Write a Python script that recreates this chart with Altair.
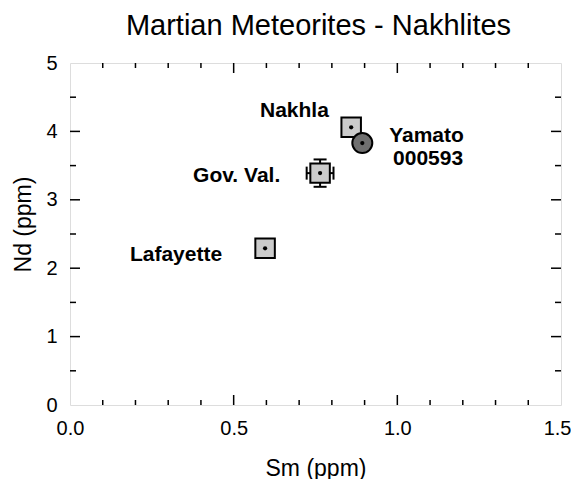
import altair as alt
import pandas as pd

# --- data ---
names = ["Lafayette", "Gov. Val.", "Nakhla", "Yamato 000593"]
sm = [0.596, 0.764, 0.859, 0.893]
nd = [2.29, 3.39, 4.06, 3.83]
kind = ["square", "square", "square", "circle"]

# error bars (Gov. Val. only)
err_name = ["Gov. Val."]
err_sm = [0.764]
err_nd = [3.39]
err_dsm = [0.041]
err_dnd = [0.20]

# labels
label_text = ["Lafayette", "Gov. Val.", "Nakhla", "Yamato", "000593"]
label_sm = [0.183, 0.376, 0.5805, 0.975, 0.987]
label_nd = [2.105, 3.26, 4.21, 3.845, 3.51]

# axis ticks
x_major = [0.0, 0.5, 1.0, 1.5]
x_minor = [0.1, 0.2, 0.3, 0.4, 0.6, 0.7, 0.8, 0.9, 1.1, 1.2, 1.3, 1.4]
y_major = [0, 1, 2, 3, 4, 5]
y_minor = [0.5, 1.5, 2.5, 3.5, 4.5]

W, H = 491, 342
FONT = "Liberation Sans"

pts = pd.DataFrame({"name": names, "sm": sm, "nd": nd, "kind": kind})
err = pd.DataFrame({"name": err_name, "sm": err_sm, "nd": err_nd,
                    "dsm": err_dsm, "dnd": err_dnd})
err["sm_lo"] = err["sm"] - err["dsm"]
err["sm_hi"] = err["sm"] + err["dsm"]
err["nd_lo"] = err["nd"] - err["dnd"]
err["nd_hi"] = err["nd"] + err["dnd"]
labels = pd.DataFrame({"t": label_text, "sm": label_sm, "nd": label_nd})

xs = alt.Scale(domain=[0, 1.5], nice=False, zero=False)
ys = alt.Scale(domain=[0, 5], nice=False, zero=False)

x_axis = alt.Axis(values=x_major, format=".1f", grid=False, domain=False,
                  ticks=False, tickSize=0, labelPadding=13, labelFontSize=20,
                  labelFont=FONT, labelColor="black", labelFlush=False,
                  labelAlign={"condition": {"test": "datum.value >= 1.5",
                                            "value": "right"},
                              "value": "center"},
                  labelOffset={"condition": {"test": "datum.value >= 1.5",
                                             "value": 10},
                               "value": 0},
                  title="Sm (ppm)", titleFont=FONT, titleFontSize=23,
                  titleFontWeight="normal", titleColor="black",
                  titleY=63, titleBaseline="middle")
y_axis = alt.Axis(values=y_major, format="d", grid=False, domain=False,
                  ticks=False, tickSize=0, labelPadding=13, labelFontSize=20,
                  labelFont=FONT, labelColor="black", labelFlush=False,
                  title="Nd (ppm)", titleFont=FONT, titleFontSize=23,
                  titleFontWeight="normal", titleColor="black",
                  titleX=-47, titleY=H / 2 - 10, titleAngle=-90,
                  titleBaseline="middle", titleAlign="center")

base = alt.Chart(pts)

# error bars
err_base = alt.Chart(err)
err_h = err_base.mark_rule(color="black", strokeWidth=2).encode(
    x=alt.X("sm_lo:Q", scale=xs, axis=x_axis), x2="sm_hi:Q",
    y=alt.Y("nd:Q", scale=ys, axis=y_axis))
err_v = err_base.mark_rule(color="black", strokeWidth=2).encode(
    x="sm:Q", y="nd_lo:Q", y2="nd_hi:Q")
cap_lo = err_base.mark_tick(orient="horizontal", size=13, thickness=2,
                            color="black", opacity=1).encode(x="sm:Q", y="nd_lo:Q")
cap_hi = err_base.mark_tick(orient="horizontal", size=13, thickness=2,
                            color="black", opacity=1).encode(x="sm:Q", y="nd_hi:Q")
cap_l = err_base.mark_tick(orient="vertical", size=13, thickness=2,
                           color="black", opacity=1).encode(x="sm_lo:Q", y="nd:Q")
cap_r = err_base.mark_tick(orient="vertical", size=13, thickness=2,
                           color="black", opacity=1).encode(x="sm_hi:Q", y="nd:Q")

squares = base.transform_filter(alt.datum.kind == "square").mark_point(
    shape="square", filled=True, fill="#cbcbcb", stroke="black",
    strokeWidth=2, size=380, opacity=1).encode(x="sm:Q", y="nd:Q")
circles = base.transform_filter(alt.datum.kind == "circle").mark_point(
    shape="circle", filled=True, fill="#6f6f6f", stroke="black",
    strokeWidth=2, size=400, opacity=1).encode(x="sm:Q", y="nd:Q")
dots = base.mark_circle(color="black", size=18, opacity=1).encode(
    x="sm:Q", y="nd:Q")

text = alt.Chart(labels).mark_text(
    align="left", baseline="alphabetic", font=FONT, fontSize=21,
    fontWeight="bold", color="black").encode(x="sm:Q", y="nd:Q", text="t:N")

# inward ticks on all four sides
def xticks(vals, length):
    d = alt.Chart(pd.DataFrame({"v": vals}))
    b = d.mark_rule(color="black", strokeWidth=1.5).encode(
        x="v:Q", y=alt.value(H), y2=alt.value(H - length))
    t = d.mark_rule(color="black", strokeWidth=1.5).encode(
        x="v:Q", y=alt.value(0), y2=alt.value(length))
    return [b, t]

def yticks(vals, length):
    d = alt.Chart(pd.DataFrame({"v": vals}))
    l = d.mark_rule(color="black", strokeWidth=1.5).encode(
        y="v:Q", x=alt.value(0), x2=alt.value(length))
    r = d.mark_rule(color="black", strokeWidth=1.5).encode(
        y="v:Q", x=alt.value(W), x2=alt.value(W - length))
    return [l, r]

tick_layers = (xticks(x_major[1:-1], 10) + xticks(x_minor, 5)
               + yticks(y_major[1:-1], 10) + yticks(y_minor, 6))

chart = alt.layer(
    err_h, err_v, cap_lo, cap_hi, cap_l, cap_r,
    squares, circles, dots, text, *tick_layers
).properties(
    width=W, height=H,
    title=alt.TitleParams("Martian Meteorites - Nakhlites", font=FONT,
                          fontSize=29, fontWeight="normal", color="black",
                          anchor="middle", frame="group", offset=12, dx=3),
    autosize=alt.AutoSizeParams(type="none"),
    padding={"left": 62, "top": 55, "right": 10, "bottom": 74},
).configure_view(stroke="black", strokeWidth=2).configure(background="white")

chart.save("out.html", embed_options={"renderer": "svg", "actions": False})
